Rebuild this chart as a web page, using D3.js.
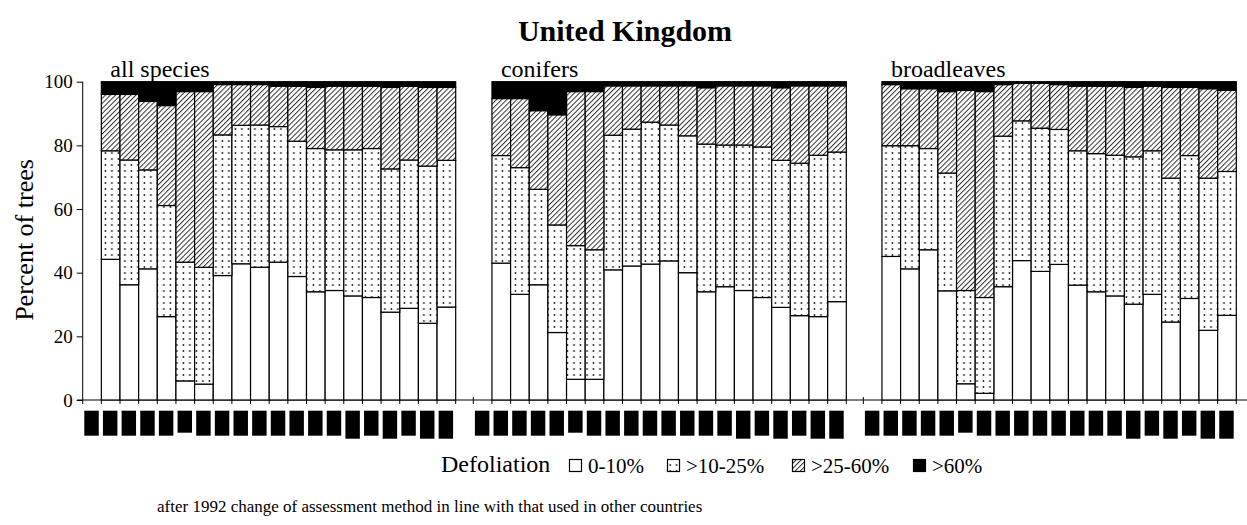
<!DOCTYPE html>
<html>
<head>
<meta charset="utf-8">
<style>
  body { margin: 0; background: #fff; }
  svg { display: block; }
  .seg { stroke: #000; stroke-width: 1.2px; }
  .axis-line { stroke: #000; stroke-width: 1px; fill: none; }
</style>
</head>
<body>
<div id="chart"></div>
<script src="https://cdn.jsdelivr.net/npm/d3@7"></script>
<script>
// years on the x axis (1986 has no data, the label boxes are drawn anyway)
var years = ["1986", "1987", "1988", "1989", "1990", "1991", "1992", "1993", "1994", "1995",
             "1996", "1997", "1998", "1999", "2000", "2001", "2002", "2003", "2004", "2005"];
var dataYears = years.slice(1);

var classes = ["0-10%", ">10-25%", ">25-60%", ">60%"];
var panelNames = ["all species", "conifers", "broadleaves"];

// percent of trees per defoliation class, one array per class and panel
var allSpecies0_10   = [44.2, 36.2, 41.2, 26.2, 6.0, 5.0, 39.1, 42.8, 41.7, 43.3, 38.8, 34.0, 34.4, 32.7, 32.2, 27.6, 28.8, 24.1, 29.2];
var allSpecies10_25  = [34.1, 39.2, 31.1, 34.9, 37.3, 36.7, 44.2, 43.5, 44.7, 42.6, 42.5, 45.0, 44.2, 45.9, 46.8, 45.0, 46.6, 49.4, 46.1];
var allSpecies25_60  = [17.7, 20.6, 21.5, 31.4, 53.6, 55.2, 15.8, 12.8, 12.7, 12.7, 17.3, 19.2, 20.0, 20.0, 19.6, 25.6, 23.2, 24.7, 22.9];
var allSpecies60     = [4.0, 4.0, 6.2, 7.5, 3.1, 3.1, 0.9, 0.9, 0.9, 1.4, 1.4, 1.8, 1.4, 1.4, 1.4, 1.8, 1.4, 1.8, 1.8];

var conifers0_10     = [43.0, 33.2, 36.2, 21.2, 6.5, 6.5, 40.9, 42.1, 42.7, 43.7, 40.0, 34.0, 35.6, 34.4, 32.2, 29.1, 26.5, 26.2, 30.9];
var conifers10_25    = [33.8, 39.8, 30.0, 33.8, 42.0, 40.7, 42.3, 43.0, 44.6, 42.7, 43.0, 46.4, 44.5, 45.7, 47.3, 46.2, 47.9, 50.7, 47.0];
var conifers25_60    = [17.9, 21.7, 24.7, 34.6, 48.4, 49.7, 15.5, 13.6, 11.4, 12.3, 15.7, 17.7, 18.6, 18.6, 19.2, 22.8, 24.3, 21.8, 20.8];
var conifers60       = [5.3, 5.3, 9.1, 10.4, 3.1, 3.1, 1.3, 1.3, 1.3, 1.3, 1.3, 1.9, 1.3, 1.3, 1.3, 1.9, 1.3, 1.3, 1.3];

var broadleaves0_10  = [45.1, 41.2, 47.2, 34.3, 5.1, 2.1, 35.6, 43.8, 40.4, 42.6, 36.1, 34.0, 32.7, 30.1, 33.2, 24.5, 31.9, 21.9, 26.6];
var broadleaves10_25 = [34.8, 38.7, 31.8, 37.0, 29.3, 30.1, 47.3, 43.9, 45.0, 42.4, 42.2, 43.4, 44.2, 46.3, 45.1, 45.2, 44.9, 47.8, 45.2];
var broadleaves25_60 = [19.2, 17.9, 18.8, 25.6, 62.9, 64.7, 16.2, 11.8, 14.1, 14.1, 20.3, 21.2, 21.7, 21.8, 20.3, 28.5, 21.4, 28.1, 25.5];
var broadleaves60    = [0.9, 2.2, 2.2, 3.1, 2.7, 3.1, 0.9, 0.5, 0.5, 0.9, 1.4, 1.4, 1.4, 1.8, 1.4, 1.8, 1.8, 2.2, 2.7];

// the year labels come out as solid black boxes, their lengths differ
var labelLength = [25, 25, 25, 25, 25, 22, 25, 25, 25, 25, 25, 25, 25, 25, 28, 25, 28, 25, 28, 28];

var panels = [
  [allSpecies0_10, allSpecies10_25, allSpecies25_60, allSpecies60],
  [conifers0_10, conifers10_25, conifers25_60, conifers60],
  [broadleaves0_10, broadleaves10_25, broadleaves25_60, broadleaves60]
];

var W = 1247, H = 525;
var serif = "'Liberation Serif', 'Times New Roman', Times, 'DejaVu Serif', serif";
var panelLeft = [82.7, 473.3, 863.3], panelWidth = 373;
var fills = ["#fff", "url(#dots)", "url(#hatch)", "#000"];

var svg = d3.select("#chart").append("svg")
    .attr("width", W)
    .attr("height", H)
    .style("font-family", serif);

var defs = svg.append("defs");
var dots = defs.append("pattern").attr("id", "dots")
    .attr("patternUnits", "userSpaceOnUse").attr("width", 6.5).attr("height", 6);
dots.append("rect").attr("width", 6.5).attr("height", 6).attr("fill", "#fff");
dots.append("circle").attr("cx", 3.2).attr("cy", 3).attr("r", 0.9).attr("fill", "#222");

var hatch = defs.append("pattern").attr("id", "hatch")
    .attr("patternUnits", "userSpaceOnUse").attr("width", 3.6).attr("height", 3.6)
    .attr("patternTransform", "rotate(45)");
hatch.append("rect").attr("width", 3.6).attr("height", 3.6).attr("fill", "#fff");
hatch.append("line").attr("x1", 0).attr("y1", 0).attr("x2", 0).attr("y2", 3.6)
    .attr("stroke", "#333").attr("stroke-width", 2);

var y = d3.scaleLinear().domain([0, 100]).range([400, 81.7]);

function label(sel, size) {
  return sel.style("font-family", serif).style("font-size", size + "px").attr("fill", "#000");
}

label(svg.append("text"), 30)
    .attr("x", 625).attr("y", 41)
    .attr("text-anchor", "middle")
    .style("font-weight", "bold")
    .text("United Kingdom");

// baseline running under all three panels
svg.append("line").attr("class", "axis-line")
    .attr("x1", 77).attr("x2", W).attr("y1", y(0)).attr("y2", y(0));

// y axis on the first panel only
var yAxis = svg.append("g")
    .attr("transform", "translate(" + panelLeft[0] + ",0)")
    .call(d3.axisLeft(y).tickValues([0, 20, 40, 60, 80, 100]).tickSize(6).tickPadding(4));
yAxis.attr("font-family", null).attr("font-size", null);
yAxis.select(".domain").attr("d", "M0," + y(0) + "V" + y(100));
label(yAxis.selectAll("text"), 19);

label(svg.append("text"), 26)
    .attr("transform", "translate(33,240) rotate(-90)")
    .attr("text-anchor", "middle")
    .text("Percent of trees");

var stack = d3.stack().keys([0, 1, 2, 3]);

panels.forEach(function (series, p) {
  var x = d3.scaleBand().domain(years).range([0, panelWidth]);
  var g = svg.append("g").attr("transform", "translate(" + panelLeft[p] + ",0)");

  var rows = dataYears.map(function (yr, i) {
    return { year: yr, 0: series[0][i], 1: series[1][i], 2: series[2][i], 3: series[3][i] };
  });

  g.selectAll("g.layer")
    .data(stack(rows))
    .join("g")
    .attr("class", "layer")
    .attr("fill", function (d) { return fills[d.key]; })
    .selectAll("rect")
    .data(function (d) { return d; })
    .join("rect")
    .attr("class", "seg")
    .attr("x", function (d) { return x(d.data.year); })
    .attr("width", x.bandwidth())
    .attr("y", function (d) { return y(d[1]); })
    .attr("height", function (d) { return y(d[0]) - y(d[1]); });

  // ticks at every slot edge
  var edges = years.map(function (yr) { return x(yr); }).concat([panelWidth]);
  g.selectAll("line.tick")
    .data(edges)
    .join("line")
    .attr("class", "axis-line")
    .attr("x1", function (d) { return d; }).attr("x2", function (d) { return d; })
    .attr("y1", function (d, i) { return i === 0 && p > 0 ? y(0) - 3 : y(0); })
    .attr("y2", y(0) + 4);

  g.selectAll("rect.label")
    .data(years)
    .join("rect")
    .attr("class", "label")
    .attr("x", function (d) { return x(d) + 1.6; })
    .attr("y", 410.7)
    .attr("width", x.bandwidth() - 4.2)
    .attr("height", function (d, i) { return labelLength[i]; })
    .attr("fill", "#000");

  label(g.append("text"), 24)
    .attr("x", x(years[1]) + 9)
    .attr("y", 77)
    .text(panelNames[p]);
});

// legend
var legend = svg.append("g");
label(legend.append("text"), 24)
    .attr("x", 441).attr("y", 472)
    .text("Defoliation");
var legendX = [569, 667, 792, 913];
var item = legend.selectAll("g.item")
    .data(classes)
    .join("g")
    .attr("class", "item")
    .attr("transform", function (d, i) { return "translate(" + legendX[i] + ",0)"; });
item.append("rect")
    .attr("x", 0.5).attr("y", 459.5)
    .attr("width", 12).attr("height", 12)
    .attr("fill", function (d, i) { return fills[i]; })
    .attr("stroke", "#000").attr("stroke-width", 1.2);
label(item.append("text"), 21)
    .attr("x", 19).attr("y", 473)
    .text(function (d) { return d; });

label(svg.append("text"), 17)
    .attr("x", 157).attr("y", 512)
    .text("after 1992 change of assessment method in line with that used in other countries");
</script>
</body>
</html>
